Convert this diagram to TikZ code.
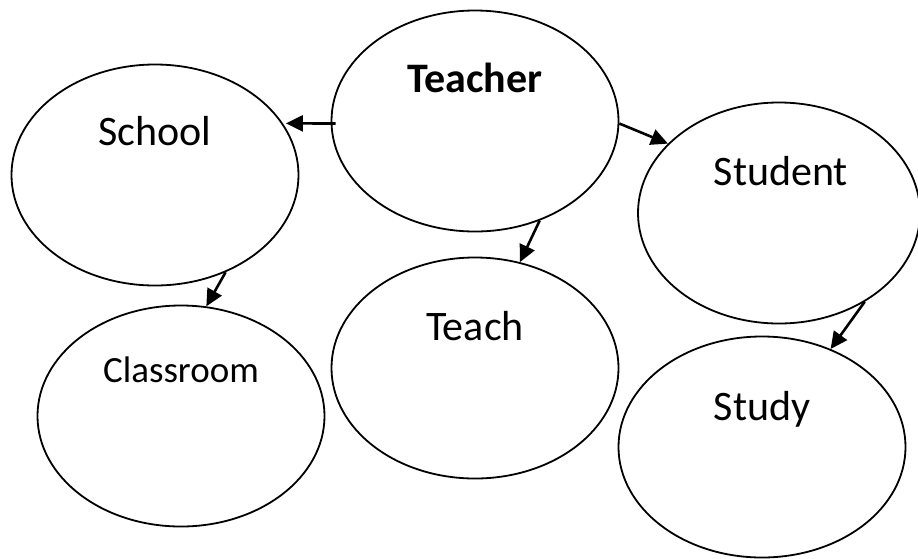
\documentclass[tikz,border=0pt]{standalone}
\usepackage{fontspec}
\setmainfont{Carlito}
\usetikzlibrary{shapes.geometric, arrows.meta}

\begin{document}
\begin{tikzpicture}[
    x=1pt, y=-1pt,
    bubble/.style={ellipse, minimum width=287pt, minimum height=221pt, draw=black, line width=1.8pt, inner sep=0pt},
    word/.style={anchor=base, font=\fontsize{42}{48}\selectfont},
    smallword/.style={anchor=base, font=\fontsize{37}{42}\selectfont},
    arrow/.style={line width=2.6pt, -{Triangle[length=17pt, width=16pt]}}
]
\useasboundingbox (0,0) rectangle (918,558);

\node (teacher) [bubble] at (475,121) {};
\node (school) [bubble] at (155,175) {};
\node (student) [bubble, minimum width=282pt] at (779,213) {};
\node (teach) [bubble] at (475,368) {};
\node (classroom) [bubble] at (181,416) {};
\node (study) [bubble] at (762,447) {};

\node (teachertext) [word, font=\fontsize{42}{48}\selectfont\bfseries] at ([yshift=29pt]teacher.center) {Teacher};
\node (schooltext) [word] at ([yshift=30pt]school.center) {School};
\node (studenttext) [word] at ([xshift=2pt, yshift=28pt]student.center) {Student};
\node (teachtext) [word] at ([yshift=28pt]teach.center) {Teach};
\node (classroomtext) [smallword] at ([yshift=34pt]classroom.center) {Classroom};
\node (studytext) [word] at ([yshift=27pt]study.center) {Study};

\draw [arrow, shorten <=-5pt, shorten >=3pt] (teacher.181) -- (school.22);
\draw [arrow] (teacher.-1) -- (student.148);
\draw [arrow] (teacher.-57) -- (teach.67);
\draw [arrow] (school.-54) -- (classroom.77);
\draw [arrow] (student.-46) -- (study.55);

\end{tikzpicture}
\end{document}
